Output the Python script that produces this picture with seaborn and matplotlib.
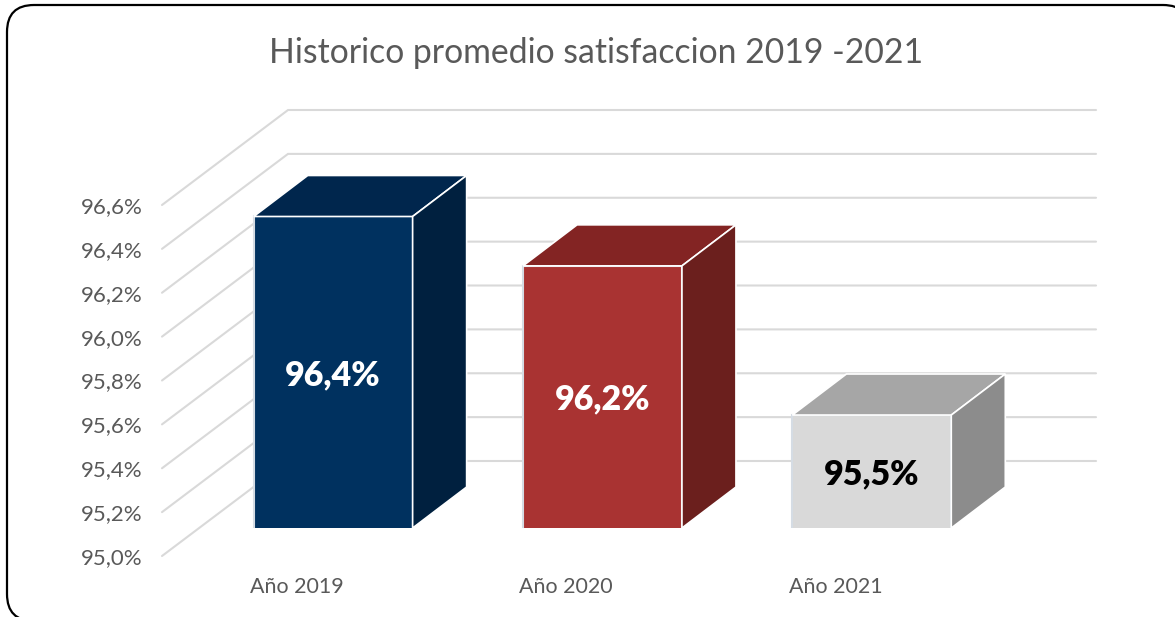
import matplotlib
matplotlib.use("Agg")
import matplotlib.pyplot as plt
from matplotlib.patches import FancyBboxPatch, Polygon
import pandas as pd
import seaborn as sns

# datos del grafico
years = ["Año 2019", "Año 2020", "Año 2021"]
satisfaction = [96.42, 96.195, 95.515]
value_labels = ["96,4%", "96,2%", "95,5%"]
y_ticks = [95.0, 95.2, 95.4, 95.6, 95.8, 96.0, 96.2, 96.4, 96.6]
y_tick_labels = ["95,0%", "95,2%", "95,4%", "95,6%", "95,8%", "96,0%", "96,2%", "96,4%", "96,6%"]

front_colors = ["#00315F", "#A93332", "#D9D9D9"]
top_colors = ["#00264D", "#832423", "#A6A6A6"]
side_colors = ["#00203F", "#6B1F1D", "#8C8C8C"]
text_colors = ["white", "white", "black"]

W, H = 1175, 617
sns.set_theme(style="white")
plt.rcParams["font.family"] = ["Lato", "DejaVu Sans"]

fig = plt.figure(figsize=(W / 100, H / 100), dpi=100, facecolor="white")


def px_axes(x0, y0, x1, y1, **kw):  # ejes dados en pixeles de la imagen
    return fig.add_axes([x0 / W, 1 - y1 / H, (x1 - x0) / W, (y1 - y0) / H], **kw)


# marco redondeado, se sale por la derecha y por abajo
bg = px_axes(0, 0, W, H)
bg.set_xlim(0, W)
bg.set_ylim(H, 0)
bg.axis("off")
bg.add_patch(FancyBboxPatch((32, 30), 1133, 566, boxstyle="round,pad=25,rounding_size=27",
                            fc="white", ec="black", lw=1.6))

# plano frontal: etiquetas de los ejes y paredes
ax = px_axes(162, 205, 970, 556, facecolor="none")
ax.set_xlim(-0.5, 2.5)
ax.set_ylim(95.0, 96.6)
sns.despine(ax=ax, left=True, bottom=True)
ax.set_xticks(range(len(years)), years)
ax.set_yticks(y_ticks, y_tick_labels)
ax.tick_params(axis="both", length=0, labelcolor="#595959")
ax.tick_params(axis="y", labelsize=16, pad=14)
ax.tick_params(axis="x", labelsize=15.4, pad=15)

depth_x = 126 / 269.3  # profundidad de la pared en unidades de datos
depth_y = 95 / 219.4
for v in y_ticks:
    ax.plot([-0.5, -0.5 + depth_x, 2.5 + depth_x], [v, v + depth_y, v + depth_y],
            color="#D9D9D9", lw=1.5, clip_on=False, zorder=1, solid_joinstyle="miter")

# barras, en un plano algo mas atras que el frontal
ax_bar = px_axes(198.5, 177, 1006.5, 528, facecolor="none")
df = pd.DataFrame({"year": years, "value": satisfaction})
sns.barplot(data=df, x="year", y="value", hue="year", palette=front_colors, width=0.59,
            legend=False, saturation=1, edgecolor="#D5DCE4", linewidth=1.5, ax=ax_bar)
ax_bar.set_xlim(-0.5, 2.5)
ax_bar.set_ylim(95.0, 96.6)
ax_bar.axis("off")

bar_dx = 54 / 269.3  # profundidad de cada barra
bar_dy = 41 / 219.4
for i, bar in enumerate(ax_bar.patches):
    x0, x1 = bar.get_x(), bar.get_x() + bar.get_width()
    v = satisfaction[i]
    base = 95.0
    ax_bar.add_patch(Polygon([(x0, v), (x1, v), (x1 + bar_dx, v + bar_dy), (x0 + bar_dx, v + bar_dy)],
                             fc=top_colors[i], ec="white", lw=1.2, clip_on=False))
    ax_bar.add_patch(Polygon([(x1, base), (x1, v), (x1 + bar_dx, v + bar_dy), (x1 + bar_dx, base + bar_dy)],
                             fc=side_colors[i], ec="white", lw=1.2, clip_on=False))
    ax_bar.text(i, (v + base) / 2 - 0.012, value_labels[i], ha="center", va="center",
                color=text_colors[i], fontsize=24.5, fontweight="heavy")

fig.text(596 / W, 1 - 53 / H, "Historico promedio satisfaccion 2019 -2021", ha="center", va="center",
         fontsize=24.3, color="#595959")

fig.savefig("out.png", dpi=100)
